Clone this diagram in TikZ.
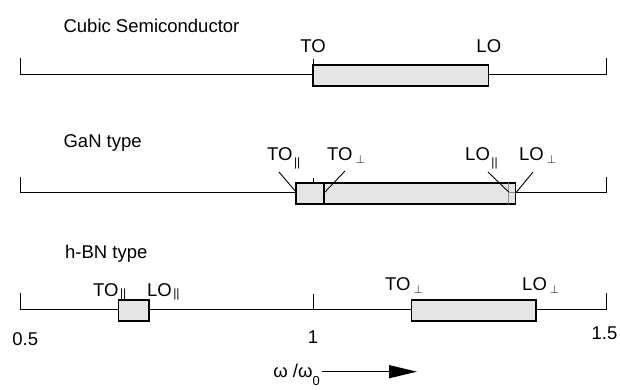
\documentclass[tikz,border=0pt]{standalone}
\usepackage{fontspec}
\setmainfont{Liberation Sans}
\usetikzlibrary{arrows.meta}
\newcommand{\parsub}[1][-5.5pt]{\hspace{1.5pt}\raisebox{#1}{\fontsize{12}{12}\selectfont||}}

\begin{document}
\begin{tikzpicture}[x=586pt,y=1pt,
  axisline/.style={line width=1pt},
  band/.style={draw,line width=1.2pt,fill=black!10},
  lbl/.style={inner sep=0pt,anchor=base west,font=\fontsize{18.5}{22}\selectfont},
  lead/.style={line width=0.9pt}]
\useasboundingbox (0.46587,0) rectangle (1.52389,390);
% cubic
\node[lbl] (cubic) at (0.574,357.7) {Cubic Semiconductor};
\draw[axisline] (0.5,332)--(0.5,315)--(1.5,315)--(1.5,332);
\draw[axisline] (1,315)--(1,331);
\draw[band] (1,304) rectangle (1.3,325);
\node[lbl,anchor=base] (cto) at (1,337.7) {TO};
\node[lbl,anchor=base] (clo) at (1.3,337.7) {LO};
% GaN
\node[lbl] (gan) at (0.574,242.7) {GaN type};
\draw[axisline] (0.5,213)--(0.5,197)--(1.5,197)--(1.5,213);
\draw[axisline] (1,197)--(1,212);
\draw[band] (0.971,186) rectangle (1.346,207);
\draw[line width=1.2pt] (1.0188,186)--(1.0188,207);
\draw[black!45,line width=1pt] (1.334,186)--(1.334,207);
\draw[black!45,axisline] (1.334,197)--(1.346,197);
\node[lbl] (gtopar) at (0.9215,229.3) {TO\parsub};
\node[lbl] (gtoperp) at (1.0239,229.3) {TO\,$_{\perp}$};
\node[lbl] (glopar) at (1.2594,229.3) {LO\parsub};
\node[lbl] (gloperp) at (1.3515,229.3) {LO\,$_{\perp}$};
\coordinate (gtopar-end) at (0.971,198);
\coordinate (gtoperp-end) at (1.0188,197);
\coordinate (glopar-end) at (1.334,198);
\coordinate (gloperp-end) at (1.346,197);
\draw[lead] (0.942,218)--(gtopar-end);
\draw[lead] (1.0546,219)--(gtoperp-end);
\draw[lead] (1.2986,218)--(glopar-end);
\draw[lead] (1.3754,218)--(gloperp-end);
% h-BN
\node[lbl] (hbn) at (0.5768,131.7) {h-BN type};
\draw[axisline] (0.5,97)--(0.5,80)--(1.5,80)--(1.5,97);
\draw[axisline] (1,80)--(1,96);
\draw[band] (0.668,69) rectangle (0.720,90);
\draw[band] (1.168,69) rectangle (1.3805,90);
\node[lbl] (htopar) at (0.6246,93.3) {TO\parsub[-1pt]};
\node[lbl] (hlopar) at (0.7167,93.3) {LO\parsub[-1pt]};
\node[lbl] (htoperp) at (1.1229,99) {TO\,$_{\perp}$};
\node[lbl] (hloperp) at (1.3567,99) {LO\,$_{\perp}$};
% scale
\node[lbl,anchor=base] (t05) at (0.509,44) {0.5};
\node[lbl,anchor=base] (t10) at (1,46) {1};
\node[lbl,anchor=base] (t15) at (1.4975,50) {1.5};
\node[lbl,anchor=base east] (wlabel) at (1.0119,12.7) {ω /ω\raisebox{-8pt}{\fontsize{13}{13}\selectfont 0}};
\coordinate (arrowtip) at (1.1775,18.3);
\draw[-{Triangle[length=28pt,width=13pt]},line width=1.3pt] ([xshift=2pt]wlabel.east |- arrowtip)--(arrowtip);
\end{tikzpicture}
\end{document}
